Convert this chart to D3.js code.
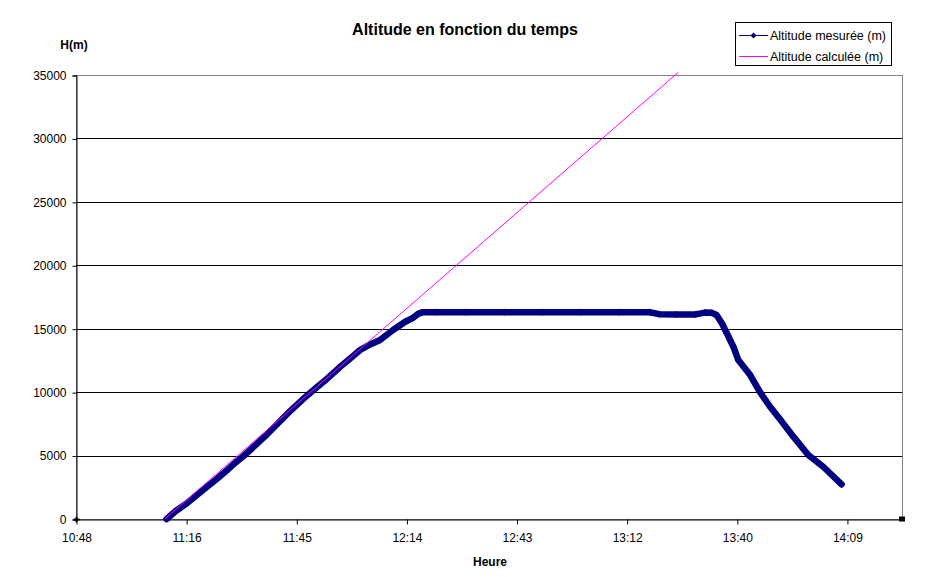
<!DOCTYPE html>
<html>
<head>
<meta charset="utf-8">
<script src="https://cdn.jsdelivr.net/npm/d3@7"></script>
<style>
  html, body { margin: 0; padding: 0; background: #fff; }
  svg { display: block; }
  text { font-family: "Liberation Sans", Arial, sans-serif; fill: #000; }
</style>
</head>
<body>
<svg id="chart" width="933" height="577"></svg>
<script>
// ---- DATA ----
// time in minutes since midnight, altitude in metres
const measuredTime = [
  671.7, 674.1, 677.0, 679.6, 682.2, 684.8, 687.4, 689.6, 691.8, 694.0,
  696.1, 697.9, 699.6, 701.8, 704.0, 706.1, 708.3, 710.9, 713.6, 717.0,
  719.7, 722.3, 724.9, 727.5, 730.9, 734.0, 736.1, 737.4, 738.5,
  742, 750, 760, 770, 780, 790, 798, 800.5, 805, 810, 812.5, 814.3,
  815.5, 816.9, 818.2, 819.9, 821.2, 824.3, 826.9, 829.5, 832.1, 835.6,
  839.5, 843.4, 848.2
];
const measuredAlt = [
  0, 630, 1240, 1890, 2520, 3150, 3820, 4420, 4970, 5560,
  6150, 6660, 7170, 7840, 8510, 9100, 9700, 10370, 11040, 11980,
  12650, 13320, 13760, 14110, 14900, 15530, 15850, 16160, 16290,
  16300, 16300, 16300, 16300, 16300, 16300, 16300, 16150, 16120, 16130, 16270, 16250,
  16080, 15430, 14640, 13580, 12530, 11350, 9990, 8850, 7860, 6490,
  5050, 4120, 2730
];
const calcTime = [671.2, 805.5];
const calcAlt = [0, 35210];

const xTicks = [648, 676.8, 705.6, 734.4, 763.2, 792, 820.8, 849.6];
const xTickLabels = ["10:48", "11:16", "11:45", "12:14", "12:43", "13:12", "13:40", "14:09"];
const yTicks = [0, 5000, 10000, 15000, 20000, 25000, 30000, 35000];
const yTickLabels = ["0", "5000", "10000", "15000", "20000", "25000", "30000", "35000"];

const seriesNames = ["Altitude mesurée (m)", "Altitude calculée (m)"];
const titleText = "Altitude en fonction du temps";
const xTitle = "Heure";
const yTitle = "H(m)";

// ---- LAYOUT ----
const L = 76, R = 902, T = 75, B = 519;
const navy = "#000080", magenta = "#FF00FF";

const svg = d3.select("#chart");
const x = d3.scaleLinear().domain([648, 864]).range([L, R]);
const y = d3.scaleLinear().domain([0, 35000]).range([B, T]);

// plot border (gray)
svg.append("rect")
  .attr("x", L + 0.5).attr("y", T + 0.5)
  .attr("width", R - L).attr("height", B - T)
  .attr("fill", "none").attr("stroke", "#808080").attr("stroke-width", 1);

// gridlines
svg.append("g").selectAll("line")
  .data(yTicks.filter(v => v > 0 && v < 35000))
  .join("line")
  .attr("x1", L).attr("x2", R)
  .attr("y1", d => Math.round(y(d)) + 0.5).attr("y2", d => Math.round(y(d)) + 0.5)
  .attr("stroke", "#000").attr("stroke-width", 1);

// Y axis
const yAxis = d3.axisLeft(y).tickValues(yTicks)
  .tickFormat((d, i) => yTickLabels[i]).tickSize(4).tickPadding(6);
const gy = svg.append("g").attr("transform", `translate(${L + 0.5},0.5)`).call(yAxis);
gy.select(".domain").attr("stroke", "#000");
gy.selectAll(".tick line").attr("stroke", "#000");
gy.selectAll("text").attr("font-size", 12).attr("font-family", "Liberation Sans, Arial, sans-serif").attr("fill", "#000");

// X axis
const xAxis = d3.axisBottom(x).tickValues(xTicks)
  .tickFormat((d, i) => xTickLabels[i]).tickSize(5).tickSizeOuter(0).tickPadding(9);
const gx = svg.append("g").attr("transform", `translate(0.5,${B + 0.5})`).call(xAxis);
gx.select(".domain").attr("stroke", "#000");
gx.selectAll(".tick line").attr("stroke", "#000");
gx.selectAll("text").attr("font-size", 12).attr("font-family", "Liberation Sans, Arial, sans-serif").attr("fill", "#000");

// small axis-end marks
svg.append("path")
  .attr("d", d3.symbol(d3.symbolCross, 18)())
  .attr("transform", `translate(${x(648) + 0.5},${y(0) + 0.5})`)
  .attr("fill", "#000");
svg.append("rect")
  .attr("x", x(864) - 3).attr("y", y(0) - 2.5).attr("width", 6).attr("height", 5)
  .attr("fill", "#000");

// measured series
const measured = measuredTime.map((t, i) => ({ t, a: measuredAlt[i] }));
const calc = calcTime.map((t, i) => ({ t, a: calcAlt[i] }));
const line = d3.line().x(d => x(d.t)).y(d => y(d.a));

svg.append("path").datum(measured)
  .attr("d", line)
  .attr("fill", "none").attr("stroke", navy)
  .attr("stroke-width", 6.5).attr("stroke-linejoin", "round").attr("stroke-linecap", "round");

const diamond = r => `M0,${-r}L${r},0L0,${r}L${-r},0Z`;
svg.append("g").selectAll("path").data(measured).join("path")
  .attr("d", diamond(3.6))
  .attr("transform", d => `translate(${x(d.t)},${y(d.a)})`)
  .attr("fill", navy);

// calculated series
svg.append("path").datum(calc)
  .attr("d", line)
  .attr("fill", "none").attr("stroke", magenta).attr("stroke-width", 1);

// title & axis titles
svg.append("text").attr("x", 465).attr("y", 35).attr("text-anchor", "middle")
  .attr("font-size", 16).attr("font-weight", "bold").text(titleText);
svg.append("text").attr("x", 74).attr("y", 49).attr("text-anchor", "middle")
  .attr("font-size", 12).attr("font-weight", "bold").text(yTitle);
svg.append("text").attr("x", 490).attr("y", 566).attr("text-anchor", "middle")
  .attr("font-size", 12).attr("font-weight", "bold").text(xTitle);

// legend
const lg = svg.append("g");
lg.append("rect").attr("x", 735.5).attr("y", 22.5).attr("width", 156).attr("height", 43)
  .attr("fill", "#fff").attr("stroke", "#000").attr("stroke-width", 1);
const rows = [{ name: seriesNames[0], color: navy, marker: true }, { name: seriesNames[1], color: magenta, marker: false }];
rows.forEach((r, i) => {
  const cy = 35.5 + i * 21;
  lg.append("line").attr("x1", 739).attr("x2", 768).attr("y1", cy).attr("y2", cy)
    .attr("stroke", r.color).attr("stroke-width", 1);
  if (r.marker) lg.append("path").attr("d", diamond(3)).attr("transform", `translate(753.5,${cy})`).attr("fill", r.color);
  lg.append("text").attr("x", 770).attr("y", cy + 4.5).attr("font-size", 12.5).text(r.name);
});
</script>
</body>
</html>
